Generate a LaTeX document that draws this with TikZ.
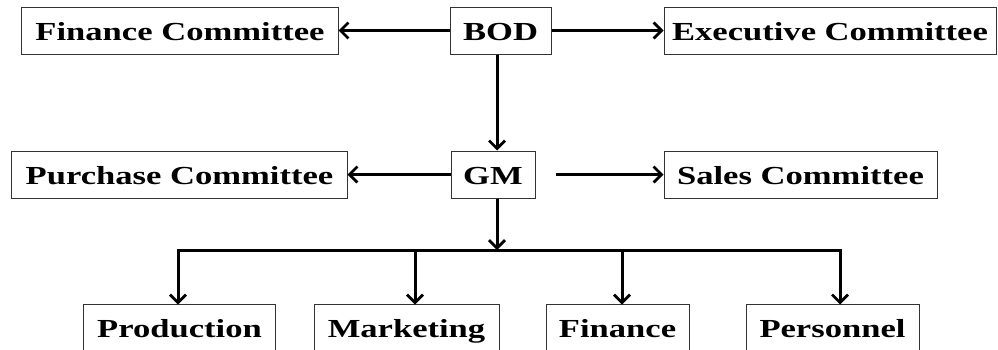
\documentclass[tikz,border=0pt]{standalone}
\usepackage{fontspec}
\setmainfont{Liberation Serif}
\newfontfamily\unitfont[FakeStretch=1.33]{Liberation Serif}
\usetikzlibrary{arrows.meta}
\begin{document}
\begin{tikzpicture}[x=1bp,y=-1bp,
  unit/.style={draw=black!80,line width=1bp,inner sep=0pt,minimum height=47bp,
    text height=20bp,text depth=0pt,
    font=\unitfont\fontsize{26bp}{30bp}\selectfont\bfseries},
  link/.style={line width=3bp,-{Straight Barb[length=8bp,width=16bp,line width=2.8bp]}},
  bar/.style={line width=3bp}]
\useasboundingbox[fill=white] (0,0) rectangle (998,349);
% board level
\node[unit,minimum width=316bp] (fc) at (180,30.5) {Finance Committee};
\node[unit,minimum width=101bp] (bod) at (500.5,30.5) {BOD};
\node[unit,minimum width=332bp] (ec) at (830,30.5) {Executive Committee};
% management level
\node[unit,minimum width=335bp] (pc) at (179.5,174.5) {Purchase Committee};
\node[unit,minimum width=84bp] (gm) at (493,174.5) {GM};
\node[unit,minimum width=273bp] (sc) at (800.5,174.5) {Sales Committee};
% departments
\node[unit,minimum width=191bp] (prod) at (179.5,327.5) {Production};
\node[unit,minimum width=185bp] (mkt) at (406.5,327.5) {Marketing};
\node[unit,minimum width=143bp] (fin) at (617.5,327.5) {Finance};
\node[unit,minimum width=173bp] (pers) at (832.5,327.5) {Personnel};
% trunk and distribution bar
\coordinate (trunk) at (497,250);
\coordinate (dprod) at (178,250);
\coordinate (dmkt) at (415,250);
\coordinate (dfin) at (622,250);
\coordinate (dpers) at (840,250);
% connectors
\draw[link] (bod.west) -- (fc.east);
\draw[link] (bod.east) -- (ec.west);
\draw[link] (bod.south -| trunk) -- (gm.north -| trunk);
\draw[link] (gm.west) -- (pc.east);
\draw[link] ([xshift=20bp]gm.east) -- (sc.west);
\draw[link] (gm.south -| trunk) -- (trunk);
\draw[bar] ([xshift=-1.5bp]dprod) -- ([xshift=1.5bp]dpers);
\draw[link] (dprod) -- ([yshift=-1bp]prod.north -| dprod);
\draw[link] (dmkt) -- ([yshift=-1bp]mkt.north -| dmkt);
\draw[link] (dfin) -- ([yshift=-1bp]fin.north -| dfin);
\draw[link] (dpers) -- ([yshift=-1bp]pers.north -| dpers);
\end{tikzpicture}
\end{document}
